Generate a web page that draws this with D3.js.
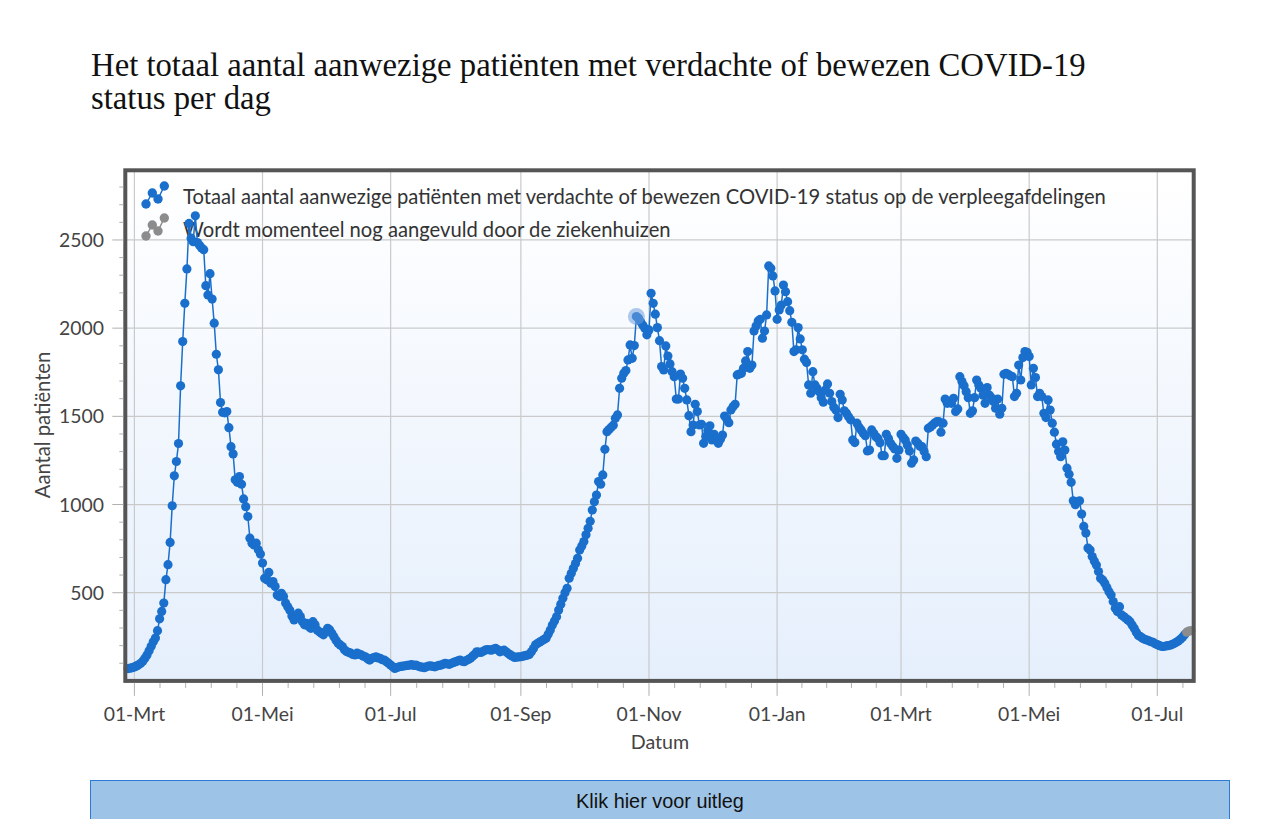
<!DOCTYPE html>
<html><head><meta charset="utf-8">
<script src="https://cdn.jsdelivr.net/npm/d3@7"></script>
<style>body{margin:0;background:#fff;} svg{display:block;}</style>
</head><body><svg id="c" width="1276" height="819"></svg>
<script>
// ---------------- DATA ----------------
const titleLines = ["Het totaal aantal aanwezige patiënten met verdachte of bewezen COVID-19", "status per dag"];
const seriesLabels = ["Totaal aantal aanwezige patiënten met verdachte of bewezen COVID-19 status op de verpleegafdelingen",
                      "Wordt momenteel nog aangevuld door de ziekenhuizen"];
const monthLabels = ["Jan","Feb","Mrt","Apr","Mei","Jun","Jul","Aug","Sep","Okt","Nov","Dec"];
const yTickValues = [500, 1000, 1500, 2000, 2500];
const xAxisTitle = "Datum";
const yAxisTitle = "Aantal patiënten";
const buttonLabel = "Klik hier voor uitleg";

// daily values, first day 2020-02-27
const confirmedStart = "2020-02-27";
const confirmedValues = [
70,72,75,79,85,91,100,112,128,147,171,196,222,243,285,352,394,441,
574,659,785,993,1163,1244,1346,1673,1924,2141,2336,2594,2510,2490,2637,2485,2470,2455,2445,
2241,2188,2309,2165,2028,1852,1764,1578,1523,1520,1527,1436,1328,1287,1140,1126,1159,1115,1032,988,932,809,781,771,781,743,719,668,
582,573,615,554,563,535,487,478,497,478,441,420,400,368,346,365,384,365,336,318,327,308,298,336,318,289,278,270,261,280,298,289,270,251,230,213,204,195,176,
166,162,157,150,147,157,152,147,140,137,126,118,128,132,137,130,128,120,118,109,100,90,80,71,76,80,82,84,86,88,90,92,88,90,84,80,78,75,80,84,86,82,80,84,88,90,95,99,96,94,
100,105,109,114,118,112,109,115,122,128,140,150,165,163,161,168,174,178,176,174,180,184,176,165,170,174,165,155,147,140,133,135,136,137,140,143,146,150,165,184,205,213,220,227,235,242,265,289,317,340,
364,402,435,468,500,525,582,610,638,665,695,742,765,790,828,865,905,969,1016,1054,1130,1115,1168,1313,1413,1425,1438,1450,1489,1508,1659,1716,1745,1760,1820,1905,1829,1901,2066,2056,2037,2018,2000,1962,1990,
2198,2141,2079,2003,1929,1782,1763,1899,1842,1797,1753,1725,1598,1598,1740,1716,1659,1593,1504,1413,1451,1568,1527,1451,1455,1347,1385,1420,1446,1366,1398,1366,1347,1370,1394,1502,1485,1464,1536,1555,1568,1735,1740,1744,1772,1814,1867,1772,1791,1984,2012,2041,2050,1943,1984,
2075,2353,2339,2296,2211,2050,2103,2131,2244,2207,2150,2099,2033,1867,1877,2003,1939,1877,1824,1805,1678,1631,1753,1678,1659,1640,1605,1580,1650,1684,1631,1584,1552,1536,1493,1625,1593,1531,1517,1498,1480,1366,1351,1461,1438,1423,1404,1390,1304,1309,
1423,1404,1385,1375,1350,1277,1277,1398,1375,1347,1330,1315,1262,1309,1398,1380,1366,1338,1304,1234,1253,1360,1347,1330,1328,1300,1271,1432,1440,1451,1462,1470,1470,1410,1461,1598,1574,1585,1574,1602,1527,1542,1725,1697,1674,1640,1606,1517,1531,1606,
1706,1678,1659,1620,1574,1663,1621,1606,1584,1546,1598,1512,1546,1738,1744,1738,1730,1725,1612,1631,1791,1706,1833,1867,1863,1839,1678,1772,1720,1612,1631,1612,1517,1493,1593,1536,1461,1410,1342,1300,1271,1356,1309,1206,1172,1126,1021,999,1016,1021,
946,876,838,753,742,705,680,657,620,582,572,554,530,506,487,450,412,393,421,374,365,355,346,336,317,298,276,258,251,242,236,232,227,222,219,210,206,200,196,195,198,200,202,206,212,219,226,236,248,262
];
// still being completed by the hospitals, first day 2021-07-15
const pendingStart = "2021-07-15";
const pendingValues = [276, 282, 285];
const highlightDate = "2020-10-26";

// ---------------- CHART ----------------
const svg = d3.select("#c");
const DAY = 864e5;
const parse = s => new Date(s + "T00:00:00Z");
const c0 = parse(confirmedStart), p0 = parse(pendingStart);
const confirmed = confirmedValues.map((v, i) => ({date: new Date(c0.getTime() + i * DAY), value: v}));
const pending = pendingValues.map((v, i) => ({date: new Date(p0.getTime() + i * DAY), value: v}));

const plot = {left: 125.3, right: 1193.7, top: 170.3, bottom: 680.9};
const x = d3.scaleUtc()
  .domain([new Date(Date.UTC(2020, 1, 25, 16)), new Date(Date.UTC(2021, 6, 18, 8))])
  .range([plot.left, plot.right]);
const y = d3.scaleLinear().domain([0, 2895]).range([plot.bottom, plot.top]);

const BLUE = "#1a6fcc", GREY = "#8c8c8c";
const SANS = "Lato, 'Open Sans', sans-serif";

function fit(sel, target) {
  const fs = parseFloat(sel.attr("font-size"));
  const w = sel.node().getComputedTextLength();
  if (w > 0) sel.attr("font-size", (fs * target / w).toFixed(2));
  return parseFloat(sel.attr("font-size"));
}

// background gradient
const defs = svg.append("defs");
const g = defs.append("linearGradient").attr("id", "bg").attr("x1", 0).attr("y1", 0).attr("x2", 0).attr("y2", 1);
g.append("stop").attr("offset", "0%").attr("stop-color", "#ffffff");
g.append("stop").attr("offset", "100%").attr("stop-color", "#e5effc");
svg.append("rect").attr("x", plot.left).attr("y", plot.top)
  .attr("width", plot.right - plot.left).attr("height", plot.bottom - plot.top)
  .attr("fill", "url(#bg)");

// ticks
const xMajor = x.ticks(d3.utcMonth.every(2)).filter(d => x(d) >= plot.left && x(d) <= plot.right);
const xMinor = [];
for (let i = 0; i < xMajor.length; i++) {
  const a = xMajor[i];
  const b = i + 1 < xMajor.length ? xMajor[i + 1] : null;
  const span = b ? (b - a) : (xMajor[i] - xMajor[i - 1]);
  for (let k = 1; k < 5; k++) {
    const t = new Date(a.getTime() + span * k / 5);
    if (x(t) <= plot.right) xMinor.push(t);
  }
}
const yMinor = d3.range(100, y.domain()[1], 100).filter(v => !yTickValues.includes(v));

// grid
const grid = svg.append("g").attr("stroke", "#cacaca").attr("stroke-width", 1.2);
grid.selectAll(".vx").data(xMajor).join("line")
  .attr("x1", d => x(d)).attr("x2", d => x(d)).attr("y1", plot.top).attr("y2", plot.bottom);
grid.selectAll(".hy").data(yTickValues).join("line")
  .attr("x1", plot.left).attr("x2", plot.right).attr("y1", d => y(d)).attr("y2", d => y(d));

// legend (under the data, as in the reference)
const leg = svg.append("g");
const icon = [[0, 0], [6.3, -11], [12, -5], [18.3, -18]];
[[BLUE, 204], [GREY, 236]].forEach(([col, oy]) => {
  const pts = icon.map(p => [146 + p[0], oy + p[1]]);
  leg.append("path").attr("d", d3.line()(pts)).attr("fill", "none").attr("stroke", col).attr("stroke-width", 1.5);
  leg.selectAll(null).data(pts).join("circle").attr("cx", p => p[0]).attr("cy", p => p[1]).attr("r", 4.7).attr("fill", col);
});
const l1 = leg.append("text").attr("x", 183).attr("y", 204).attr("font-family", SANS).attr("font-size", 19)
  .attr("fill", "#333").text(seriesLabels[0]);
const lfs = fit(l1, 923);
leg.append("text").attr("x", 183).attr("y", 236.5).attr("font-family", SANS).attr("font-size", lfs)
  .attr("fill", "#333").text(seriesLabels[1]);

// data
const line = d3.line().x(d => x(d.date)).y(d => y(d.value));
svg.append("path").datum(confirmed).attr("d", line).attr("fill", "none").attr("stroke", BLUE).attr("stroke-width", 1.5);
svg.append("g").selectAll("circle").data(confirmed).join("circle")
  .attr("cx", d => x(d.date)).attr("cy", d => y(d.value)).attr("r", 4.6).attr("fill", BLUE);
svg.append("path").datum(pending).attr("d", line).attr("fill", "none").attr("stroke", GREY).attr("stroke-width", 1.5);
svg.append("g").selectAll("circle").data(pending).join("circle")
  .attr("cx", d => x(d.date)).attr("cy", d => y(d.value)).attr("r", 4.6).attr("fill", GREY);
const hl = confirmed.find(d => d.date.getTime() === parse(highlightDate).getTime());
if (hl) svg.append("circle").attr("cx", x(hl.date)).attr("cy", y(hl.value)).attr("r", 8.5)
  .attr("fill", "#6f9fdd").attr("opacity", 0.55);

// frame
svg.append("rect").attr("x", plot.left).attr("y", plot.top)
  .attr("width", plot.right - plot.left).attr("height", plot.bottom - plot.top)
  .attr("fill", "none").attr("stroke", "#555").attr("stroke-width", 4);

// tick marks
const tk = svg.append("g").attr("stroke", "#b0b0b0").attr("stroke-width", 1);
tk.selectAll(".ymj").data(yTickValues).join("line")
  .attr("x1", plot.left - 13).attr("x2", plot.left - 2).attr("y1", d => y(d)).attr("y2", d => y(d));
tk.selectAll(".ymn").data(yMinor).join("line")
  .attr("x1", plot.left - 6).attr("x2", plot.left - 2).attr("y1", d => y(d)).attr("y2", d => y(d));
tk.selectAll(".xmj").data(xMajor).join("line")
  .attr("x1", d => x(d)).attr("x2", d => x(d)).attr("y1", plot.bottom + 2).attr("y2", plot.bottom + 15);
tk.selectAll(".xmn").data(xMinor).join("line")
  .attr("x1", d => x(d)).attr("x2", d => x(d)).attr("y1", plot.bottom + 2).attr("y2", plot.bottom + 7);

// tick labels
const yl = svg.append("g").attr("font-family", SANS).attr("fill", "#444").attr("text-anchor", "end");
const yLabs = yl.selectAll("text").data(yTickValues).join("text")
  .attr("x", 104).attr("y", d => y(d)).attr("dy", "0.36em").attr("font-size", 18).text(d => d);
const tfs = fit(d3.select(yLabs.nodes()[yLabs.size() - 1]), 45);
yLabs.attr("font-size", tfs);
const fmt = d => "01-" + monthLabels[d.getUTCMonth()];
svg.append("g").attr("font-family", SANS).attr("fill", "#444").attr("text-anchor", "middle")
  .selectAll("text").data(xMajor).join("text")
  .attr("x", d => x(d)).attr("y", 721).attr("font-size", tfs).text(fmt);

// axis titles
const xt = svg.append("text").attr("x", 660).attr("y", 749).attr("text-anchor", "middle")
  .attr("font-family", SANS).attr("font-size", 18).attr("fill", "#444").text(xAxisTitle);
fit(xt, 58.5);
const yt = svg.append("text").attr("transform", "translate(50,425) rotate(-90)").attr("text-anchor", "middle")
  .attr("font-family", SANS).attr("font-size", 18).attr("fill", "#444").text(yAxisTitle);
fit(yt, 146.6);

// title
const t1 = svg.append("text").attr("x", 91).attr("y", 76).attr("font-family", "'Liberation Serif', serif")
  .attr("font-size", 31).attr("fill", "#111").text(titleLines[0]);
const tsz = fit(t1, 995);
svg.append("text").attr("x", 91).attr("y", 109).attr("font-family", "'Liberation Serif', serif")
  .attr("font-size", tsz).attr("fill", "#111").text(titleLines[1]);

// explanation button
svg.append("rect").attr("x", 90.5).attr("y", 780.5).attr("width", 1139).attr("height", 60)
  .attr("fill", "#9dc3e6").attr("stroke", "#2c7ad6").attr("stroke-width", 1);
const bt = svg.append("text").attr("x", 660).attr("y", 808).attr("text-anchor", "middle")
  .attr("font-family", "'Liberation Sans', Arial, sans-serif").attr("font-size", 18).attr("fill", "#111").text(buttonLabel);
fit(bt, 168);
</script></body></html>
